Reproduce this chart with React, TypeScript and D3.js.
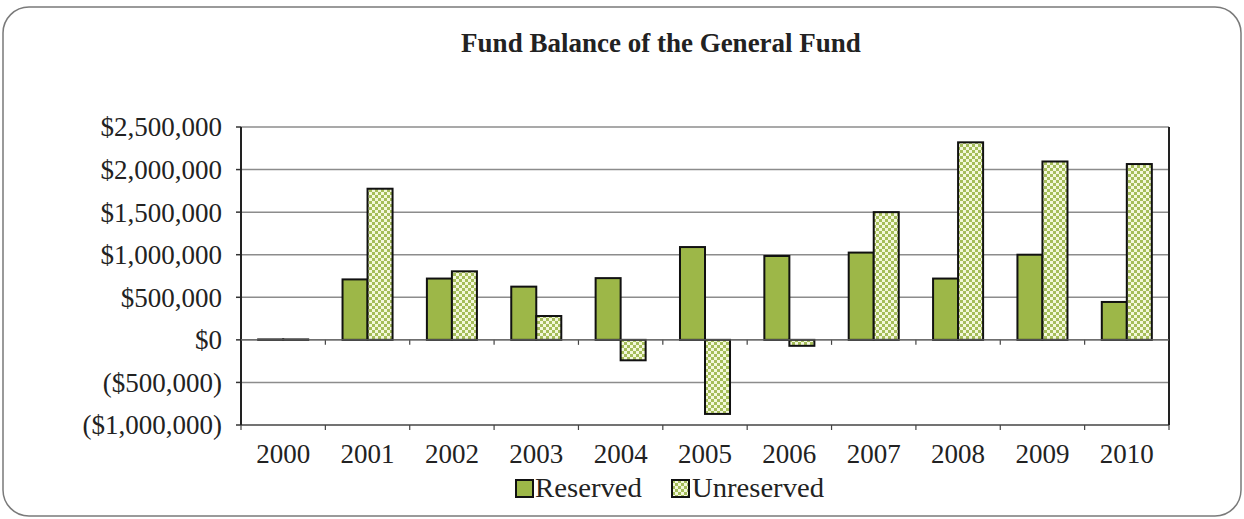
import React from "react";
import * as d3 from "d3";

const years = ["2000","2001","2002","2003","2004","2005","2006","2007","2008","2009","2010"];
const reserved = [5000, 710000, 720000, 625000, 725000, 1090000, 985000, 1025000, 720000, 1000000, 445000];
const unreserved = [5000, 1775000, 805000, 280000, -240000, -870000, -70000, 1500000, 2320000, 2095000, 2065000];
const yTicks = [-1000000, -500000, 0, 500000, 1000000, 1500000, 2000000, 2500000];
const seriesNames = ["Reserved", "Unreserved"];

const W = 1244, H = 519;
const left = 241, right = 1169, top = 127, bottom = 425;
const FONT = "'Liberation Serif', 'Times New Roman', serif";
const GREEN = "#9db748";

function fmt(v: number) {
  const s = "$" + d3.format(",")(Math.abs(v));
  return v < 0 ? "(" + s + ")" : s;
}

export default function App() {
  const x = d3.scaleBand<string>().domain(years).range([left, right]).paddingInner(0.407).paddingOuter(0.2035);
  const xs = d3.scaleBand<string>().domain(seriesNames).range([0, x.bandwidth()]);
  const y = d3.scaleLinear().domain([-1000000, 2500000]).range([bottom, top]);
  const step = x.step();
  const boundaries = d3.range(years.length + 1).map((i) => left + i * step);

  const bar = (v: number) => ({ y: Math.min(y(v), y(0)), h: Math.abs(y(v) - y(0)) });

  return (
    <div style={{ position: "absolute", left: 0, top: 0 }}>
      <svg width={W} height={H} style={{ display: "block", background: "#fff" }}>
        <defs>
          <pattern id="chk" width="6" height="6" patternUnits="userSpaceOnUse">
            <rect width="6" height="6" fill="#f4f8dc" />
            <rect x="0" y="0" width="3" height="3" fill="#a5bd5a" />
            <rect x="3" y="3" width="3" height="3" fill="#a5bd5a" />
          </pattern>
        </defs>
        <rect x={3} y={7} width={1238} height={509} rx={26} ry={26} fill="#fff" stroke="#7a7a7a" strokeWidth={1.5} />
        <text x={661} y={52} textAnchor="middle" fontFamily={FONT} fontWeight="bold" fontSize={27} fill="#222">
          Fund Balance of the General Fund
        </text>

        {/* gridlines */}
        {yTicks.map((t) => (
          <line key={t} x1={left} x2={right} y1={y(t)} y2={y(t)} stroke={t === -1000000 ? "#444" : "#8c8c8c"} strokeWidth={1.5} />
        ))}
        {/* y ticks & labels */}
        {yTicks.map((t) => (
          <g key={"l" + t}>
            <line x1={left - 5} x2={left} y1={y(t)} y2={y(t)} stroke="#333" strokeWidth={1.5} />
            <text x={222} y={y(t)} dy="0.35em" textAnchor="end" fontFamily={FONT} fontSize={27} fill="#222">
              {fmt(t)}
            </text>
          </g>
        ))}
        {/* x ticks at zero and bottom */}
        {boundaries.map((b, i) => (
          <g key={"b" + i}>
            <line x1={b} x2={b} y1={y(0)} y2={y(0) + 5} stroke="#444" strokeWidth={1.2} />
            <line x1={b} x2={b} y1={bottom} y2={bottom + 5} stroke="#444" strokeWidth={1.2} />
          </g>
        ))}

        {/* bars */}
        {years.map((yr, i) => {
          const r = bar(reserved[i]);
          const u = bar(unreserved[i]);
          const x0 = x(yr)!;
          return (
            <g key={yr}>
              <rect x={x0 + xs("Reserved")!} y={r.y} width={xs.bandwidth()} height={r.h} fill={GREEN} stroke="#111" strokeWidth={2} />
              <rect x={x0 + xs("Unreserved")!} y={u.y} width={xs.bandwidth()} height={u.h} fill="url(#chk)" stroke="#111" strokeWidth={2} />
            </g>
          );
        })}

        {/* axes */}
        <line x1={left} x2={left} y1={top} y2={bottom} stroke="#222" strokeWidth={2} />
        <line x1={right} x2={right} y1={top} y2={bottom} stroke="#222" strokeWidth={2} />
        <line x1={left} x2={right} y1={y(0)} y2={y(0)} stroke="#666" strokeWidth={1.2} />

        {/* x labels */}
        {years.map((yr) => (
          <text key={"t" + yr} x={x(yr)! + x.bandwidth() / 2} y={463} textAnchor="middle" fontFamily={FONT} fontSize={27} fill="#222">
            {yr}
          </text>
        ))}

        {/* legend */}
        <rect x={516} y={480} width={17} height={17} fill={GREEN} stroke="#111" strokeWidth={2} />
        <text x={535} y={497} fontFamily={FONT} fontSize={28} fill="#222" textLength={107} lengthAdjust="spacingAndGlyphs">Reserved</text>
        <rect x={672} y={480} width={17} height={17} fill="url(#chk)" stroke="#111" strokeWidth={2} />
        <text x={692} y={497} fontFamily={FONT} fontSize={28} fill="#222" textLength={132} lengthAdjust="spacingAndGlyphs">Unreserved</text>
      </svg>
    </div>
  );
}
